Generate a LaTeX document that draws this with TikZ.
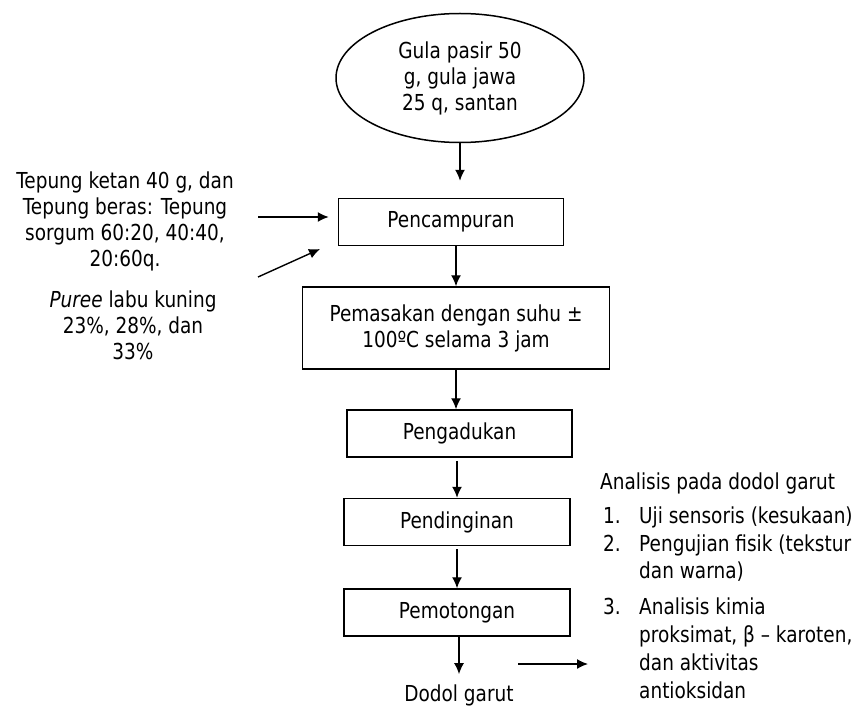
\documentclass[tikz,border=0pt]{standalone}
\usepackage{fontspec}
\setmainfont{DejaVu Sans}[FakeStretch=0.84]
\usepackage{tikz}
\usetikzlibrary{shapes.geometric}
\usetikzlibrary{arrows.meta}

\begin{document}
\begin{tikzpicture}[x=1pt,y=-1pt,
	font=\fontsize{22}{26}\selectfont,
	box/.style={rectangle,draw,line width=1.5pt,minimum width=225pt,minimum height=47pt,inner sep=0pt},
	arr/.style={-{Latex[length=11pt,width=10pt]},line width=1.4pt}]
	\useasboundingbox (0,0) rectangle (864,706);
	% bahan awal
	\node [ellipse,draw,line width=1.5pt,minimum width=248pt,minimum height=129pt,inner sep=0pt,align=center] (gula) at (460,78) {Gula pasir 50\\g, gula jawa\\25 q, santan};
	% tahapan proses
	\node [box] (campur) at (451,222) {Pencampuran};
	\node [box,minimum width=307pt,minimum height=82pt,align=center] (masak) at (456,328) {Pemasakan dengan suhu ±\\100ºC selama 3 jam};
	\node [box] (aduk) at (459.5,433.5) {Pengadukan};
	\node [box,minimum width=226pt] (dingin) at (457,522) {Pendinginan};
	\node [box,minimum width=226pt] (potong) at (457,612.5) {Pemotongan};
	\node [inner sep=0pt] (dodol) at (459,695) {Dodol garut};
	% bahan tambahan
	\node [align=center,inner sep=0pt] (tepung) at (125,221) {Tepung ketan 40 g, dan\\Tepung beras: Tepung\\sorgum 60:20, 40:40,\\20:60q.};
	\node [align=center,inner sep=0pt] (puree) at (133,325) {\textit{Puree} labu kuning\\23\%, 28\%, dan\\33\%};
	% analisis
	\node [anchor=west,inner sep=0pt] (analisis) at (600,483) {Analisis pada dodol garut};
	\node [anchor=north west,inner sep=0pt] (uji) at (600,505) {%
		\begin{tabular}{@{\hspace{3pt}}p{36pt}@{}l@{}}
			1. & Uji sensoris (kesukaan)\\[2pt]
			2. & Pengujian fisik (tekstur\\[1pt]
			   & dan warna)\\[10pt]
			3. & Analisis kimia\\[2pt]
			   & proksimat, β – karoten,\\[2pt]
			   & dan aktivitas\\[2pt]
			   & antioksidan
		\end{tabular}};
	\coordinate (t1) at (258,217);
	\coordinate (p1) at (258,277);
	\coordinate (p2) at (320,249);
	\coordinate (h1) at (518,664);
	\coordinate (h2) at (588,664);
	% panah
	\draw [arr,shorten >=17pt] (gula.south) -- (gula.south |- campur.north);
	\draw [arr] (masak.north |- campur.south) -- (masak.north);
	\draw [arr] (masak.south) -- (masak.south |- aduk.north);
	\draw [arr,shorten <=3pt] (dingin.north |- aduk.south) -- (dingin.north);
	\draw [arr,shorten <=3pt] (dingin.south) -- (potong.north);
	\draw [arr,shorten >=10pt] (potong.south -| dodol.north) -- (dodol.north);
	\draw [arr,shorten >=9pt] (t1) -- (t1 -| campur.west);
	\draw [arr] (p1) -- (p2);
	\draw [arr] (h1) -- (h2);
\end{tikzpicture}
\end{document}
